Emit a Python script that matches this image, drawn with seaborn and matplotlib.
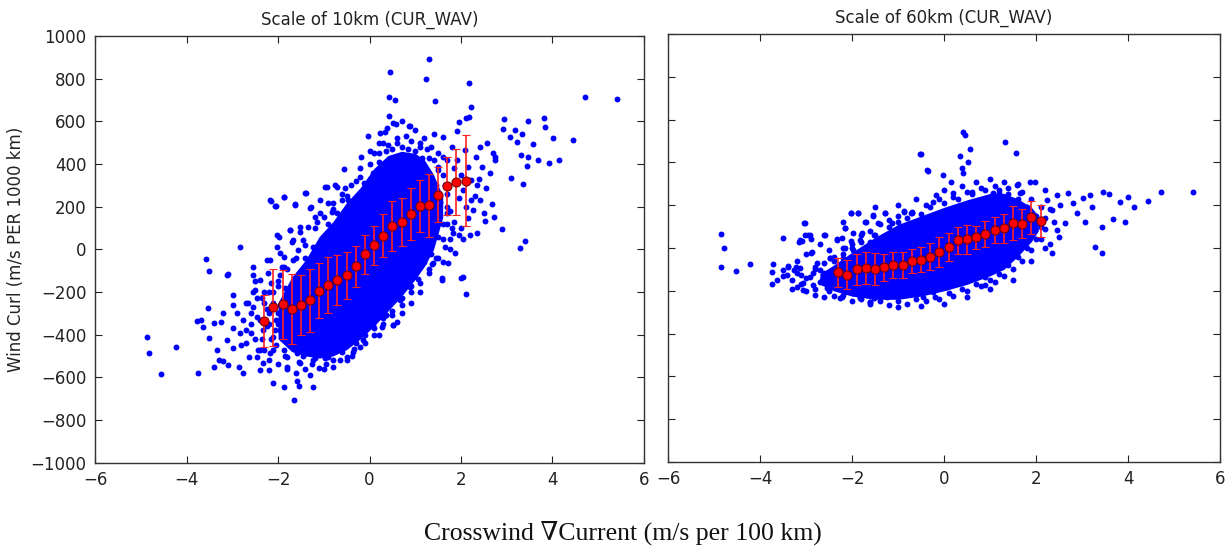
import matplotlib
matplotlib.use("Agg")
import matplotlib.pyplot as plt
import seaborn as sns

# ---------------- data ----------------
bin_x = [-2.3, -2.1, -1.9, -1.7, -1.5, -1.3, -1.1, -0.9, -0.7, -0.5, -0.3, -0.1,
         0.1, 0.3, 0.5, 0.7, 0.9, 1.1, 1.3, 1.5, 1.7, 1.9, 2.1]

left_mean = [-335, -272, -258, -281, -260, -239, -194, -167, -145, -122, -80, -23,
             19, 64, 111, 128, 166, 203, 206, 256, 297, 316, 322]
left_err = [123, 180, 163, 165, 141, 148, 129, 130, 118, 111, 96, 92,
            92, 100, 117, 113, 122, 123, 148, 128, 135, 157, 213]

right_mean = [-113, -125, -99, -93, -99, -91, -79, -79, -62, -54, -41, -18,
              4, 35, 41, 49, 65, 83, 91, 116, 113, 143, 126]
right_err = [68, 67, 72, 76, 76, 65, 62, 62, 57, 57, 62, 69,
             67, 64, 67, 56, 62, 62, 70, 78, 67, 77, 75]

# dense (solid) core of each scatter cloud: x, lower and upper edge
left_core_x = [-2.0, -1.7, -1.4, -1.1, -0.8, -0.5, -0.2, 0.1, 0.4, 0.7, 1.0, 1.2, 1.4, 1.6]
left_core_lo = [-420, -480, -500, -510, -500, -470, -420, -360, -290, -220, -140, -80, 0, 150]
left_core_hi = [-250, -130, -50, 60, 130, 220, 290, 380, 440, 460, 450, 420, 350, 250]

right_core_x = [-2.7, -2.4, -2.0, -1.5, -1.0, -0.5, 0.0, 0.5, 1.0, 1.3, 1.6, 1.9, 2.05]
right_core_lo = [-170, -200, -225, -240, -240, -225, -200, -170, -130, -100, -40, 30, 80]
right_core_hi = [-120, -80, -20, 50, 110, 150, 190, 225, 255, 255, 230, 190, 150]

# individual scattered points around the cores
left_x = [0.45, 0.43, 0.56, 0.43, 0.57, 0.89, -0.03, 0.38, 0.23, -0.19, -0.55, -0.11, 0.08,
          -0.94, -0.72, -0.54, -1.39, -1.63, -1.88, -2.16, -2.06, -1.30, -0.79, -0.46,
          -2.83, -3.58, -3.50, -3.10, -1.74, -1.52, -1.67, -2.03, -1.96, -2.25, -1.88,
          -2.54, -1.19, -1.08, -0.72,
          1.31, 1.24, 2.18, 1.43, 4.71, 5.42, 2.21, 2.18, 2.94, 3.82, 3.84, 3.47, 2.91,
          3.17, 3.34, 3.07, 3.23, 3.58, 4.01, 4.44, 3.32, 3.46, 3.44, 3.68, 3.93, 4.14,
          3.09, 3.36, 2.67, 2.73, 2.90, 3.41, 3.29, 2.52, 2.34, 2.04, 1.58, 2.56, 2.69,
          2.74, 2.42, 2.33, 2.45, 2.21, 2.36, 2.21, 2.16, 1.96, 1.76, 2.50, 1.91, 2.12,
          1.96, 1.61, 1.80, 0.87, 0.34, 0.52,
          -4.87, -4.81, -4.55, -4.23, -3.76, -3.78, -3.68, -3.53, -3.65, -3.50, -3.41,
          -3.41, -3.34, -3.30, -3.21, -3.09, -3.25, -3.12, -2.98, -2.99, -3.20, -3.11,
          -2.98, -2.98, -2.85, -2.77, -2.63, -2.69, -2.54, -2.65, -2.76, -2.83, -2.47,
          -2.39, -2.32, -2.12, -2.19, -1.86, -1.65, -1.59, -1.54, -1.24, -1.30, -1.10,
          -1.81, -1.81, -1.52, -1.23, -0.97, -0.79, -0.50, -0.39, -0.34, -0.14, 0.07,
          0.36, 0.51, 0.27, 0.67, 0.89, -2.33, -2.54,
          1.37, 1.58, 2.00, 2.12, 0.52, 0.35, 0.47, 0.89, 1.03,
          1.69, 1.82, 2.04, 2.20, 1.87, 1.72, 1.39, 2.42, 2.63, 2.55, 2.74, 2.27, 1.61,
          1.50, 2.09, 2.16, 1.91,
          -2.17, -1.88, -2.04, -1.63, -1.41, -0.97, -0.75, -1.28, -1.08, -0.90, -0.83,
          -1.15, -1.34, -1.52, -1.74, -1.97, -2.03, -1.70, -1.45, -1.23, -1.56, -1.88,
          -2.17, -2.39, -2.50, -2.21, -1.92, -1.67, -1.41, -2.54, -2.47, -2.58, -2.43,
          -2.17, -1.88, -1.59, -2.07, -1.81, -1.59, -1.37, -1.74,
          -2.30, -2.20, -2.10, -2.00, -1.95, -1.90, -1.85, -1.80, -1.75, -1.70, -1.65,
          -1.60, -1.55, -1.50, -1.45, -2.35, -2.25, -2.05, -2.15, -1.95, -2.40, -2.60,
          -2.70, -2.45, -2.00, -1.90, -2.10, -2.30, -1.70, -1.60, -1.55, -1.45, -1.35,
          -1.30, -1.25, -1.40,
          -1.30, -1.10, -0.95, -0.85, -0.70, -0.55, -0.40, -0.30, -0.15, 0.00, 0.10,
          0.20, 0.35, 0.50, 0.70, 0.85, 1.00, 1.15, 1.30, 1.45, 1.55, 1.60, 1.50, 1.35,
          1.20, 1.05, 0.90, 0.70, 0.50, 0.30, 0.10, -0.10, -0.30, -0.60, -0.90, -1.20,
          -1.45, -1.60,
          -1.20, -1.00, -0.90, -0.60, -0.50, -0.30, -0.20, 0.10, 0.20, 0.60, 0.80, 1.10,
          1.25, 1.40, 1.60, 1.70, 1.75, 1.80, 1.65, 1.50, 1.30, 1.10, 0.90, 0.70, 0.60,
          0.20, -0.20, -0.50, -0.80, -1.00,
          -2.20, -2.00, -1.80, -1.60, -1.40, -1.20, -1.00, -0.80, -0.60, -0.40, -0.20,
          0.00, 0.20, 0.40, 0.60, 0.90, 1.10, 1.30, 1.50, 1.65, 1.70,
          1.70, 1.60, 1.45, 1.30, 1.10, 0.90, 0.70, 0.50, 0.30, 0.10, -0.10, -0.35,
          -0.65, -0.95, -1.25, -1.55, -1.85, -2.10,
          -2.20, -2.00, -2.10, -1.95, -2.25, -2.05, -2.35, -2.15,
          1.20, 1.35, 1.50, 1.70, 1.85, 2.00, 2.05, 1.95, 2.10, 1.85, 2.00, 1.75, 1.60,
          2.30, 2.40, 1.40, 1.00, 0.70, 0.30, 0.00,
          -2.60, -2.50, -2.40, -2.20, -2.00, -1.80, -1.60, -1.40, -2.30, -2.50, -2.70,
          -2.80, -2.90]
left_y = [833, 713, 700, 625, 588, 580, 531, 569, 545, 434, 375, 310, 356,
          294, 291, 286, 265, 212, 247, 227, 205, 192, 216, 231,
          12, -47, -100, -116, 91, 106, 44, 67, -19, -50, -82,
          -82, 153, 231, 169,
          894, 800, 781, 697, 713, 707, 669, 622, 611, 617, 575, 603, 563,
          560, 539, 528, 505, 494, 524, 513, 442, 434, 392, 420, 403, 417,
          333, 308, 212, 153, 95, 40, 6, 134, 75, -131, -136, 497, 450,
          419, 481, 434, 387, 325, 302, 231, 145, 67, 47, 169, 556, 614,
          596, 528, 481, 578, 552, 591,
          -410, -488, -585, -460, -582, -335, -332, -277, -363, -418, -347,
          -553, -472, -519, -524, -543, -339, -425, -465, -371, -300, -121,
          -214, -261, -551, -582, -504, -441, -121, -253, -332, -394, -504,
          -566, -535, -629, -566, -647, -707, -616, -641, -644, -590, -558,
          -551, -504, -535, -519, -511, -519, -504, -500, -469, -425, -355,
          -308, -355, -363, -238, -175, -379, -199,
          -69, -144, -136, -210, -355, -308, -238, -113, -82,
          169, 75, 47, 67, -19, -66, -66, 231, 356, 286, 434, 184, 434,
          387, 466, 387, 419,
          231, 247, 203, 208, 265, 294, 302, 200, 169, 216, 176,
          129, 106, 83, 91, 59, 12, 36, 44, 12, -3, -35,
          -50, -144, -191, -113, -82, -50, -42, -269, -316, -394, -472,
          -488, -472, -488, -379, -347, -386, -410, -269,
          -250, -300, -200, -350, -260, -420, -180, -300, -390, -220, -330,
          -150, -270, -430, -200, -420, -360, -450, -160, -120, -330, -300,
          -380, -230, -150, -330, -410, -470, -460, -410, -350, -320, -250,
          -140, -60, -110,
          -200, -90, -10, 40, 110, 130, 190, 200, 270, 330, 360,
          410, 460, 470, 480, 470, 460, 430, 360, 300, 220, 120, 60, -20,
          -60, -140, -170, -230, -290, -320, -370, -400, -440, -480, -505, -510,
          -500, -450,
          0, 60, 120, 230, 250, 320, 380, 450, 500, 520, 530, 500,
          470, 420, 350, 260, 180, 100, 10, -40, -110, -200, -250, -300, -340,
          -400, -460, -520, -550, -560,
          -200, -170, -90, -40, 20, 100, 150, 190, 260, 300, 340,
          400, 450, 490, 500, 510, 480, 430, 370, 300, 200,
          120, 50, -40, -90, -160, -200, -260, -310, -350, -400, -440, -480,
          -520, -540, -540, -530, -500, -470,
          -350, -300, -250, -380, -280, -330, -230, -420,
          520, 480, 450, 420, 380, 350, 280, 240, 200, 130, 100, 0, -60,
          250, 330, 540, 560, 600, 500, 460,
          -350, -420, -470, -520, -540, -560, -580, -560, -200, -150, -250,
          -450, -300]

right_x = [-0.52, -0.36, -0.18, -0.23, -4.84, -4.79, -4.85, -4.52, -4.21, -3.51, -3.03,
           -3.13, -2.95, -2.89, -2.60, -3.71, -3.40, -2.33, -2.15, -2.03, -1.86, -1.55,
           -1.28, -0.88, -0.70, -1.69, -1.97, -1.82, -1.53, -2.15, -2.48, -2.69, -3.22,
           -3.11,
           -3.74, -3.64, -3.42, -3.49, -3.20, -3.06, -2.84, -2.66, -2.55, -2.26, -1.97,
           -1.82, -1.61, -1.53, -1.24, -0.81, -0.45, -0.23, -3.74, -3.20, -2.84,
           0.42, 0.46, 0.57, 0.35, 0.52, 1.33, 1.56, -0.35, -0.03, 0.15, 0.42, 0.39,
           -0.50, 1.98, 1.58, 2.20, 2.45, 2.70, 3.03, 3.17, 3.45, 3.59, 4.01, 4.44,
           4.71, 5.42, 3.83, 4.14, 3.94, 3.68, 3.43, 3.43, 3.28, 3.07, 2.89, 2.63,
           2.45, 2.34, 2.20, 2.52, 2.34, 2.23, 3.21, 2.81, 1.87, 1.65, 1.20, 1.07,
           0.60, 0.20,
           0.89, 0.86, 1.18, 1.00, 0.35, 0.05, -0.16, -0.45, 0.89, 0.02,
           -3.04, -3.02, -2.92, -3.16, -3.09, -2.87, -2.58, -2.33, -2.22, -2.02, -2.15,
           -2.03, -1.86, -1.55, -1.28, -0.88, -0.72, -1.71, -1.43, -1.13, -1.79, -1.61,
           -1.97, -2.19, -2.48, -2.76, -3.13, -3.27, -2.62, -2.91, -3.06, -2.40, -2.22,
           -1.82, -1.61,
           -2.40, -2.20, -2.00, -1.80, -1.50, -1.20, -1.00, -0.80, -0.50, -0.30, 0.00,
           0.30, 0.60, 0.90, 1.20, 1.40, 1.60, 1.80, 2.00, 2.10, 2.00, 1.80, 1.60, 1.40,
           1.20, 1.00, 0.70, 0.40, 0.10, -0.20, -0.60, -1.00, -1.40, -1.80, -2.20,
           -2.50, -2.60, -2.70, -2.80, -3.00, -3.30, -3.50, -2.50, -2.70,
           -2.80, -2.60, -2.40, -2.20, -2.00, -1.80, -1.60, -1.40, -1.20, -1.00, -0.70,
           -0.40, -0.10, 0.20, 0.50, 0.80, 1.10, 1.40, 1.70, 1.90, 2.10, 2.20,
           2.20, 2.10, 1.90, 1.70, 1.50, 1.30, 1.10, 0.80, 0.50, 0.20, -0.10, -0.40,
           -0.80, -1.20, -1.60, -2.00, -2.40, -2.80, -3.10,
           -3.30, -3.00, -2.80, -2.60, -3.40, -3.20, -3.00, -2.90, -2.20, -1.50, -1.00,
           -0.60, 0.00, 0.40, 0.70, 1.00, 1.30, 1.60, 2.30, 2.40, 2.50, 2.30, 1.90,
           1.50, 1.00, 0.50, 0.00, -0.50, -1.00]
right_y = [439, 364, 248, 216, 64, 1, -87, -107, -76, 47, 118,
           37, 61, -22, 61, -76, -83, 41, 92, 165, 162, 151,
           162, 174, 162, 123, 69, 37, 61, -1, -48, -103, -87,
           -126,
           -168, -150, -126, -103, -181, -196, -173, -150, -188, -235, -212,
           -228, -251, -235, -228, -212, -228, -204, -111, -118, -118,
           543, 528, 461, 430, 403, 497, 443, 361, 341, 310, 349, 372,
           439, 310, 294, 271, 248, 256, 232, 248, 263, 251, 240, 220,
           263, 263, 214, 190, 123, 134, 100, -25, 6, 123, 162, 115,
           84, -25, -1, 201, 178, 224, 193, 209, 310, 256, 259, 256,
           263, 259,
           -173, -131, -87, -72, -165, -184, -150, -196, -134, -181,
           115, 61, 61, 29, 34, -17, 61, 37, 45, 33, 92,
           165, 162, 154, 165, 170, 162, 123, 115, 115, 69, 29,
           -9, -48, -48, -71, -95, -103, -118, -134, -165, -165, -228,
           -235, -251,
           -60, -30, 0, 30, 60, 100, 120, 140, 160, 190, 210,
           230, 250, 270, 270, 250, 230, 190, 150, 100, 40, 0, -40, -80,
           -120, -150, -170, -190, -210, -230, -240, -250, -250, -240, -220,
           -200, -120, -160, -90, -140, -150, -130, -10, 20,
           -100, -70, -40, 0, 20, 60, 80, 110, 130, 150, 170,
           200, 230, 240, 260, 280, 290, 280, 260, 230, 190, 140,
           90, 40, -10, -60, -100, -130, -160, -180, -200, -225, -240, -250,
           -260, -265, -260, -250, -225, -190, -170,
           -190, -200, -220, -230, -90, -60, -30, 40, 120, 190, 200,
           230, 270, 290, 310, 320, 310, 300, 180, 120, 50, 20, -60,
           -150, -190, -230, -260, -270, -275]

title_left = "Scale of 10km (CUR_WAV)"
title_right = "Scale of 60km (CUR_WAV)"
ylabel = "Wind Curl (m/s PER 1000 km)"
xlabel = "Crosswind \u2207Current (m/s per 100 km)"
xticks = [-6, -4, -2, 0, 2, 4, 6]
yticks = [-1000, -800, -600, -400, -200, 0, 200, 400, 600, 800, 1000]

# ---------------- drawing ----------------
sns.set_style("ticks")
plt.rcParams["font.family"] = ["DejaVu Sans"]

fig = plt.figure(figsize=(12.28, 5.48), dpi=100)
ax1 = fig.add_axes([0.0774, 0.156, 0.447, 0.778])
ax2 = fig.add_axes([0.5440, 0.157, 0.4495, 0.781])

BLUE = "#0000ff"
panels = [
    (ax1, left_core_x, left_core_lo, left_core_hi, left_x, left_y, left_mean, left_err, title_left),
    (ax2, right_core_x, right_core_lo, right_core_hi, right_x, right_y, right_mean, right_err, title_right),
]
for ax, cx, clo, chi, px, py, mean, err, title in panels:
    ax.fill_between(cx, clo, chi, color=BLUE, linewidth=0, zorder=1)
    sns.scatterplot(x=px, y=py, ax=ax, color=BLUE, s=18, linewidth=0, zorder=2)
    ax.errorbar(bin_x, mean, yerr=err, fmt="o", color="#ff0000", ecolor="#ff2020",
                elinewidth=1.2, capsize=3, capthick=1.0, markersize=6.5,
                markerfacecolor="#ff0000", markeredgecolor="#7a0000",
                markeredgewidth=0.8, zorder=3)
    ax.set_xlim(-6, 6)
    ax.set_ylim(-1000, 1000)
    ax.set_xticks(xticks)
    ax.set_xticklabels(["\u2212" + str(abs(t)) if t < 0 else str(t) for t in xticks])
    ax.set_yticks(yticks)
    ax.tick_params(direction="in", top=True, right=True, length=5, width=0.8,
                   labelsize=12, colors="#222222", pad=6)
    for sp in ax.spines.values():
        sp.set_visible(True)
        sp.set_color("#333333")
        sp.set_linewidth(1.0)
    ax.set_title(title, fontsize=12, color="#222222", pad=8)
    ax.set_xlabel("")
    ax.set_ylabel("")

ax1.set_yticklabels(["\u2212" + str(abs(t)) if t < 0 else str(t) for t in yticks])
ax2.tick_params(labelleft=False)
ax1.set_ylabel(ylabel, fontsize=12, color="#222222", labelpad=4)

fig.text(0.507, 0.027, xlabel, ha="center", va="center", fontsize=18.5,
         color="#111111", family=["Liberation Serif", "DejaVu Serif"])

fig.savefig("out.png", dpi=100, facecolor="white")
